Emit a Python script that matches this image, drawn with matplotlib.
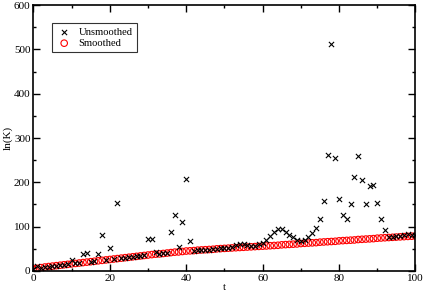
import matplotlib
matplotlib.use("Agg")
import matplotlib.pyplot as plt

plt.rcParams['font.family'] = ['Liberation Serif', 'DejaVu Serif']

t = list(range(0, 101))

# smoothed curve, one value per t
smoothed = [5, 6, 7.5, 9, 10, 11, 12, 13, 14, 15,
            16, 17, 18, 19, 20, 21, 22, 23, 24, 25,
            26, 27, 28, 29, 30, 31, 32, 33, 34, 35,
            36, 37, 38, 38.5, 39.5, 40.5, 41.5, 42.5, 43, 44,
            45, 45.5, 46, 47, 47.5, 48, 48.5, 49, 50, 50.5,
            51, 51.5, 52, 52.5, 53, 53.5, 54, 54.5, 55, 55.5,
            56, 56.5, 57, 57.5, 58, 59, 59.5, 60, 60.5, 61,
            62, 62.5, 63, 63.5, 64, 65, 65.5, 66, 66.5, 67,
            68, 68.5, 69, 69.5, 70, 71, 71.5, 72, 72.5, 73,
            74, 74.5, 75, 75.5, 76, 76.5, 77, 77.5, 78, 78.5,
            79]

# raw values
unsmoothed = [4, 12, 7, 8, 10, 11, 12, 13, 14, 15,
              25, 17, 18, 38, 40, 21, 22, 38, 81, 24,
              52, 27, 153, 29, 30, 31, 32, 33, 34, 36,
              73, 72, 42, 39, 40, 41, 88, 127, 53, 110,
              207, 68, 46, 47, 47, 48, 48, 49, 50, 51,
              51, 52, 53, 58, 60, 60, 58, 56, 57, 60,
              63, 70, 79, 88, 94, 94, 88, 82, 76, 70,
              68, 70, 77, 85, 97, 117, 157, 261, 512, 256,
              162, 126, 117, 152, 213, 259, 205, 152, 192, 195,
              153, 117, 92, 77, 77, 80, 80, 82, 83, 82,
              82]

fig = plt.figure(figsize=(4.25, 2.95), dpi=100)
ax = fig.add_axes([0.0784, 0.0814, 0.8992, 0.9016])

ax.scatter(t, unsmoothed, marker='x', s=14, c='k', linewidths=0.8, label='Unsmoothed', zorder=3)
ax.scatter(t, smoothed, marker='o', s=22, facecolors='none', edgecolors='#ff0000',
           linewidths=0.8, label='Smoothed', zorder=2)

ax.set_xlim(0, 100)
ax.set_ylim(0, 600)
ax.set_xticks([0, 20, 40, 60, 80, 100])
ax.set_xticks(range(10, 100, 20), minor=True)
ax.set_yticks(range(0, 601, 100))
ax.set_yticks(range(50, 600, 100), minor=True)
ax.tick_params(which='both', direction='in', top=True, right=True, labelsize=8, pad=2)
ax.tick_params(which='major', length=5, width=1)
ax.tick_params(which='minor', length=2.5, width=1)
for s in ax.spines.values():
    s.set_linewidth(1.2)

ax.set_xlabel('t', fontsize=8, labelpad=0)
ax.set_ylabel('ln(K)', fontsize=8, labelpad=1)

leg = ax.legend(loc='upper left', bbox_to_anchor=(0.049, 0.931), fontsize=7.6,
                frameon=True, fancybox=False, edgecolor='k', handlelength=1.5,
                handletextpad=0.6, borderpad=0.4, labelspacing=0.15, borderaxespad=0)
leg.get_frame().set_linewidth(0.8)

fig.savefig('out.png', dpi=100)
